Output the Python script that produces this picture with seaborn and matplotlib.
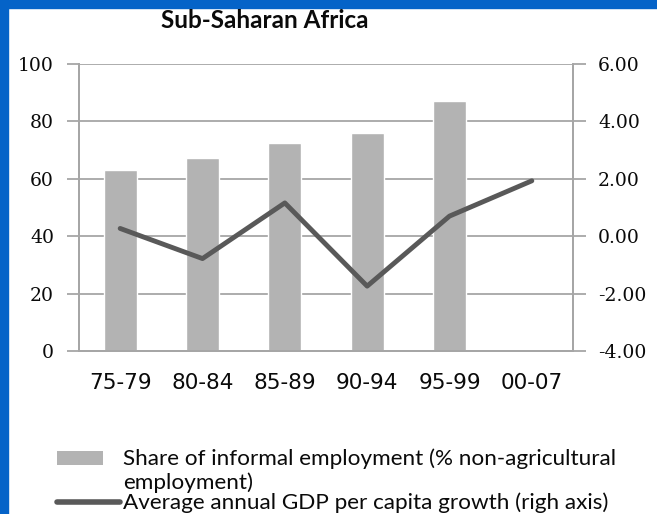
import numpy as np
import pandas as pd
import matplotlib
matplotlib.use("Agg")
import matplotlib.pyplot as plt
import seaborn as sns
from matplotlib.patches import Patch, Rectangle
from matplotlib.lines import Line2D
from matplotlib.legend_handler import HandlerPatch

categories = ["75-79", "80-84", "85-89", "90-94", "95-99", "00-07"]
informal_share = [63.0, 67.4, 72.3, 76.0, 87.2, np.nan]
gdp_growth = [0.27, -0.78, 1.16, -1.74, 0.70, 1.93]
left_ticks = [0, 20, 40, 60, 80, 100]
right_ticks = [-4, -2, 0, 2, 4, 6]

title = "Sub-Saharan Africa"
bar_label = "Share of informal employment (% non-agricultural\nemployment)"
line_label = "Average annual GDP per capita growth (righ axis)"

sns.set_theme(style="white")
plt.rcParams['font.family'] = ['DejaVu Sans']

bar_color = "#b3b3b3"
line_color = "#595959"
grid_color = "#a6a6a6"
text_color = "#0a0a0a"

df = pd.DataFrame({"period": categories, "share": informal_share, "gdp": gdp_growth})

fig = plt.figure(figsize=(6.57, 5.14), dpi=100)
fig.patch.set_facecolor("white")
# blue frame at left and top
fig.add_artist(Rectangle((0, 0), 8/657, 1, transform=fig.transFigure, color="#0563c8", zorder=0))
fig.add_artist(Rectangle((0, 1 - 8/514), 1, 8/514, transform=fig.transFigure, color="#0563c8", zorder=0))

ax = fig.add_axes([79/657, 1 - 351/514, (573 - 79)/657, (351 - 64)/514])
sns.barplot(data=df, x="period", y="share", color=bar_color, width=0.4,
            saturation=1, ax=ax, zorder=2)
ax.set_ylim(0, 100)
ax.set_xlim(-0.5, 5.5)
ax.set_yticks(left_ticks)
ax.set_xlabel("")
ax.set_ylabel("")
ax.grid(axis="y", color=grid_color, linewidth=1.3, zorder=0)
ax.set_axisbelow(True)

ax2 = ax.twinx()
sns.lineplot(x=np.arange(len(categories)), y=df["gdp"], color=line_color,
             linewidth=3.5, ax=ax2, zorder=3)
ax2.set_ylim(-4, 6)
ax2.set_yticks(right_ticks)
ax2.set_yticklabels([f"{v:.2f}" for v in right_ticks])
ax2.set_ylabel("")
ax2.set_xlim(-0.5, 5.5)

for a in (ax, ax2):
    for s in a.spines.values():
        s.set_color(grid_color)
        s.set_linewidth(1.3)
    a.spines["top"].set_visible(False)

ax.set_xticks(np.arange(len(categories)))
ax.set_xticklabels(categories)
ax.set_xticks(np.arange(-0.5, 6, 1), minor=True)
ax.tick_params(axis="x", which="major", length=0, pad=16)
ax.tick_params(axis="x", which="minor", length=8, width=1.3, color=grid_color, direction="out")
ax.tick_params(axis="y", length=9, width=1.3, color=grid_color, direction="out", pad=9)
ax2.tick_params(axis="y", length=9, width=1.3, color=grid_color, direction="out", pad=9)
for lbl in ax.get_xticklabels():
    lbl.set_family("DejaVu Sans")
    lbl.set_fontsize(15.5)
    lbl.set_color(text_color)
for lbl in ax.get_yticklabels() + ax2.get_yticklabels():
    lbl.set_family("DejaVu Serif")
    lbl.set_fontsize(13.5)
    lbl.set_color(text_color)

fig.text(265/657, 1 - 20/514, title, ha="center", va="center", fontsize=17.5,
         family="Lato", weight="bold", color=text_color)


def bar_handle(legend, orig_handle, xdescent, ydescent, width, height, fontsize):
    return Rectangle((-xdescent, -ydescent + 9.5), 33.0, 10.5)


handles = [Patch(facecolor=bar_color, edgecolor="none"),
           Line2D([0], [0], color=line_color, linewidth=4)]
leg = fig.legend(handles, [bar_label, line_label], loc="upper left",
                 bbox_to_anchor=(57/657, 1 - 448/514), frameon=False,
                 prop={"family": "Lato", "size": 16.2}, handlelength=2.8,
                 handletextpad=0.15, labelspacing=0.0, borderpad=0, borderaxespad=0,
                 handler_map={Patch: HandlerPatch(patch_func=bar_handle)})
for t in leg.get_texts():
    t.set_color(text_color)
    t.set_linespacing(1.22)

fig.savefig("out.png", dpi=100, facecolor="white")
